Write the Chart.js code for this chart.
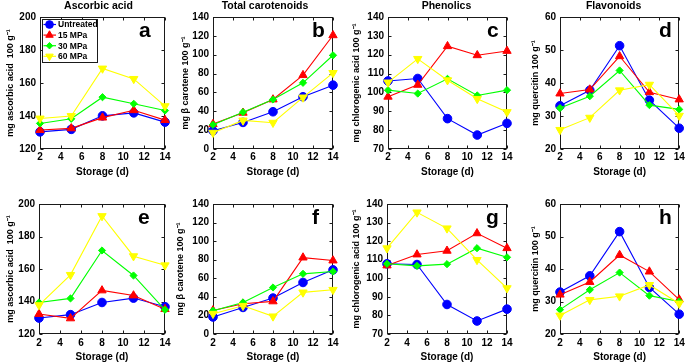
<!DOCTYPE html>
<html><head><meta charset="utf-8">
<script src="https://cdn.jsdelivr.net/npm/chart.js@4/dist/chart.umd.min.js"></script>
<style>
html,body{margin:0;padding:0;background:#fff;width:685px;height:364px;overflow:hidden}
canvas{position:absolute;left:0;top:0}
</style></head><body>
<canvas id="pa" width="685" height="364"></canvas>
<canvas id="pb" width="685" height="364"></canvas>
<canvas id="pc" width="685" height="364"></canvas>
<canvas id="pd" width="685" height="364"></canvas>
<canvas id="pe" width="685" height="364"></canvas>
<canvas id="pf" width="685" height="364"></canvas>
<canvas id="pg" width="685" height="364"></canvas>
<canvas id="ph" width="685" height="364"></canvas>
<script>
// ---------- data ----------
const days = [2, 5, 8, 11, 14];
const seriesNames = ['Untreated', '15 MPa', '30 MPa', '60 MPa'];
const panelTitles = ['Ascorbic acid', 'Total carotenoids', 'Phenolics', 'Flavonoids'];
const panelLetters = ['a', 'b', 'c', 'd', 'e', 'f', 'g', 'h'];
const yTitles = ['mg ascorbic acid  100 g\u207B\u00B9', 'mg \u03B2 carotene 100 g\u207B\u00B9', 'mg chlorogenic acid 100 g\u207B\u00B9', 'mg quercitin 100 g\u207B\u00B9'];
const yMins = [120, 0, 70, 20];
const yMaxs = [200, 140, 140, 60];
const ySteps = [20, 20, 10, 10];
const xTicks = [2, 4, 6, 8, 10, 12, 14];

// a: ascorbic acid (top)
const aUntreated = [130.4, 131.9, 140.1, 141.9, 136.3];
const a15 = [131.5, 132.5, 139.0, 143.5, 137.5];
const a30 = [135.5, 138.3, 151.4, 147.4, 143.3];
const a60 = [138.5, 140.0, 168.8, 162.5, 146.0];
// b: total carotenoids (top)
const bUntreated = [19.4, 28.2, 39.5, 55.4, 67.7];
const b15 = [26.4, 38.4, 52.5, 78.3, 120.6];
const b30 = [25.7, 39.1, 52.5, 70.2, 99.4];
const b60 = [17.3, 30.3, 27.9, 54.7, 80.7];
// c: phenolics (top)
const cUntreated = [106.1, 107.4, 86.1, 77.4, 83.6];
const c15 = [97.7, 104.0, 124.5, 119.7, 122.0];
const c30 = [101.2, 99.4, 107.2, 98.4, 101.2];
const c60 = [105.3, 117.8, 106.5, 96.6, 89.6];
// d: flavonoids (top)
const dUntreated = [33.1, 37.8, 51.3, 34.8, 26.3];
const d15 = [36.8, 38.0, 48.1, 37.2, 35.0];
const d30 = [32.4, 36.0, 43.8, 33.3, 32.0];
const d60 = [25.8, 29.5, 37.8, 39.5, 30.1];
// e: ascorbic acid (bottom)
const eUntreated = [129.8, 131.9, 139.4, 142.1, 136.8];
const e15 = [132.3, 129.6, 146.8, 143.7, 135.3];
const e30 = [139.4, 141.9, 171.4, 156.0, 134.9];
const e60 = [137.8, 156.4, 192.6, 167.9, 162.3];
// f: total carotenoids (bottom)
const fUntreated = [18.3, 28.6, 38.7, 55.5, 69.1];
const f15 = [25.4, 32.6, 35.1, 82.3, 79.1];
const f30 = [25.1, 34.0, 50.1, 64.8, 67.3];
const f60 = [21.8, 30.4, 19.0, 44.8, 47.6];
// g: phenolics (bottom)
const gUntreated = [107.8, 107.4, 85.9, 77.0, 83.4];
const g15 = [106.9, 112.8, 114.8, 124.2, 116.2];
const g30 = [107.8, 106.7, 107.6, 116.2, 111.3];
const g60 = [116.2, 135.5, 126.9, 109.9, 94.7];
// h: flavonoids (bottom)
const hUntreated = [32.9, 37.9, 51.5, 34.3, 26.1];
const h15 = [32.1, 36.0, 44.3, 39.2, 30.6];
const h30 = [27.5, 33.6, 38.9, 31.8, 30.0];
const h60 = [25.7, 30.5, 31.6, 35.1, 29.4];

const panelSeries = [
  [aUntreated, a15, a30, a60], [bUntreated, b15, b30, b60],
  [cUntreated, c15, c30, c60], [dUntreated, d15, d30, d60],
  [eUntreated, e15, e30, e60], [fUntreated, f15, f30, f60],
  [gUntreated, g15, g30, g60], [hUntreated, h15, h30, h60]
];

// ---------- styling / layout ----------
const FONT = "'Liberation Sans', Arial, Helvetica, sans-serif";
Chart.defaults.font.family = FONT;
const colors = ['#0000ff', '#ff0000', '#00ff00', '#ffff00'];
const pStyles = ['circle', 'triangle', 'rectRot', 'triangle'];
const pRot = [0, 0, 0, 180];
const pRad = [4.3, 4.8, 3.6, 4.8];
// plot-area boxes [left, right] and y-title offset from plot left
const plotLeft = [40, 213, 388, 560, 39, 213, 387, 560];
const plotRight = [165, 333, 507, 681, 165, 333, 507, 681];
const yTitleOff = [29.5, 27, 31, 24, 28.5, 32, 30, 24];
const titleDx = [-4, -8, -1, -6];
const YT_FONT = 9;
const YT_LH = YT_FONT * 1.2;

const frame = {
  id: 'frame',
  beforeDatasetsDraw(chart) {
    const { ctx, chartArea: a, scales: { x, y } } = chart;
    ctx.save();
    ctx.strokeStyle = '#1a1a1a';
    ctx.lineWidth = 1;
    const L = Math.round(a.left) + 0.5, R = Math.round(a.right) - 0.5;
    const T = Math.round(a.top) + 0.5, B = Math.round(a.bottom) - 0.5;
    ctx.strokeRect(L, T, R - L, B - T);
    ctx.beginPath();
    x.ticks.forEach(t => {
      const px = Math.round(x.getPixelForValue(t.value)) + 0.5;
      ctx.moveTo(px, B); ctx.lineTo(px, B - 3);
      ctx.moveTo(px, T); ctx.lineTo(px, T + 3);
    });
    y.ticks.forEach(t => {
      const py = Math.round(y.getPixelForValue(t.value)) + 0.5;
      ctx.moveTo(L, py); ctx.lineTo(L + 3, py);
      ctx.moveTo(R, py); ctx.lineTo(R - 3, py);
    });
    ctx.stroke();
    ctx.restore();
  },
  afterDraw(chart, args, o) {
    const { ctx, chartArea: a } = chart;
    ctx.save();
    ctx.fillStyle = '#000';
    if (o.title) {
      ctx.font = 'bold 10.5px ' + FONT;
      ctx.textAlign = 'center';
      ctx.textBaseline = 'middle';
      ctx.fillText(o.title, (a.left + a.right) / 2 + o.titleDx, 6.5);
    }
    if (o.letter) {
      ctx.font = 'bold 21px ' + FONT;
      ctx.textAlign = 'left';
      ctx.textBaseline = 'alphabetic';
      ctx.fillText(o.letter, a.left + 99, a.top + 19.5);
    }
    if (o.legend) {
      const bx = Math.round(a.left) + 2, by = Math.round(a.top) + 2, bw = 55, bh = 43;
      ctx.fillStyle = '#fff';
      ctx.fillRect(bx, by, bw, bh);
      ctx.strokeStyle = '#1a1a1a';
      ctx.lineWidth = 1;
      ctx.strokeRect(bx + 0.5, by + 0.5, bw, bh);
      chart.data.datasets.forEach((ds, i) => {
        const yy = by + 5.5 + i * 10.6;
        ctx.strokeStyle = ds.borderColor;
        ctx.lineWidth = 1.2;
        ctx.beginPath(); ctx.moveTo(bx + 1.5, yy); ctx.lineTo(bx + 14, yy); ctx.stroke();
        ctx.fillStyle = ds.pointBackgroundColor;
        ctx.strokeStyle = ds.pointBorderColor;
        ctx.lineWidth = 1;
        Chart.helpers.drawPoint(ctx, { pointStyle: ds.pointStyle, rotation: ds.pointRotation, radius: ds.pointRadius * 0.9, borderWidth: 1 }, bx + 7.5, yy);
        ctx.fillStyle = '#000';
        ctx.font = 'bold 8.5px ' + FONT;
        ctx.textAlign = 'left';
        ctx.textBaseline = 'middle';
        ctx.fillText(ds.label, bx + 16, yy + 0.5);
      });
    }
    ctx.restore();
  }
};

function buildPanel(idx) {
  const col = idx % 4;
  const top = idx < 4;
  const vals = panelSeries[idx];
  const W = yTitleOff[idx] + YT_LH / 2;
  const H = top ? 33 : 30;
  const padTop = top ? 17 : 204;
  const padBottom = top ? 182 : 0;
  const datasets = vals.map((v, i) => ({
    label: seriesNames[i],
    data: days.map((d, j) => ({ x: d, y: v[j] })),
    borderColor: colors[i],
    backgroundColor: colors[i],
    borderWidth: 1.1,
    pointStyle: pStyles[i],
    pointRotation: pRot[i],
    pointRadius: pRad[i],
    pointBackgroundColor: colors[i],
    pointBorderColor: colors[i],
    pointBorderWidth: 1,
    tension: 0,
    clip: false,
    order: 3 - i
  }));
  new Chart(document.getElementById('p' + panelLetters[idx]), {
    type: 'line',
    data: { datasets },
    plugins: [frame],
    options: {
      responsive: false,
      animation: false,
      events: [],
      layout: { padding: { left: plotLeft[idx] - W, right: 685 - plotRight[idx], top: padTop, bottom: padBottom } },
      plugins: {
        legend: { display: false },
        tooltip: { enabled: false },
        title: { display: false },
        frame: {
          title: top ? panelTitles[col] : null,
          titleDx: titleDx[col],
          letter: panelLetters[idx],
          legend: idx === 0
        }
      },
      scales: {
        x: {
          type: 'linear', min: 2, max: 14,
          afterBuildTicks: s => { s.ticks = xTicks.map(v => ({ value: v })); },
          afterFit: s => { s.height = H; s.paddingLeft = 0; s.paddingRight = 0; },
          grid: { display: false, drawTicks: false },
          border: { display: false },
          ticks: { autoSkip: false, maxRotation: 0, padding: top ? 2 : 3, color: '#000', font: { size: 10, weight: 'bold' } },
          title: { display: true, text: 'Storage (d)', color: '#000', font: { size: 10, weight: 'bold' }, padding: { top: 0, bottom: top ? 4 : 1 } }
        },
        y: {
          type: 'linear', min: yMins[col], max: yMaxs[col],
          ticks: { stepSize: ySteps[col], padding: 4, color: '#000', font: { size: 10, weight: 'bold' } },
          afterFit: s => { s.width = W; s.paddingTop = 0; s.paddingBottom = 0; },
          grid: { display: false, drawTicks: false },
          border: { display: false },
          title: { display: true, text: yTitles[col], color: '#000', font: { size: YT_FONT, weight: 'bold' }, padding: { top: 0, bottom: 0 } }
        }
      }
    }
  });
}
for (let i = 0; i < 8; i++) buildPanel(i);
</script>
</body></html>
